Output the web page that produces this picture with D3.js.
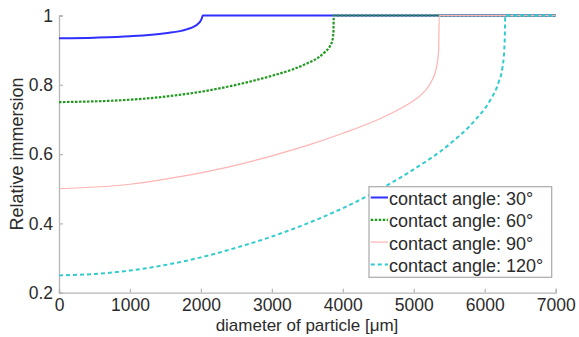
<!DOCTYPE html>
<html><head><meta charset="utf-8">
<script src="https://cdn.jsdelivr.net/npm/d3@7"></script>
<style>
html,body{margin:0;padding:0;background:#fff;}
svg{display:block;font-family:"Liberation Sans",Arial,sans-serif;}
</style></head>
<body><svg id="c" width="579" height="337"></svg>
<script>
// ---- data ----
const labels = ["contact angle: 30°","contact angle: 60°","contact angle: 90°","contact angle: 120°"];
const d30 = [0, 500, 1000, 1500, 1800, 1920, 1980, 2010, 2025, 7000];
const v30 = [0.934, 0.936, 0.940, 0.949, 0.960, 0.970, 0.980, 0.990, 1, 1];
const d60 = [0, 1000, 1500, 2000, 2500, 3000, 3300, 3500, 3650, 3750, 3820, 3855, 3868, 3872, 7000];
const v60 = [0.75, 0.757, 0.766, 0.780, 0.800, 0.826, 0.845, 0.862, 0.878, 0.895, 0.912, 0.93, 0.955, 1, 1];
const d90 = [0, 1000, 1500, 2000, 2500, 3000, 3500, 4000, 4500, 4800, 5000, 5150, 5250, 5320, 5350, 5360, 7000];
const v90 = [0.5, 0.513, 0.528, 0.546, 0.568, 0.595, 0.625, 0.66, 0.70, 0.73, 0.755, 0.78, 0.81, 0.85, 0.90, 1, 1];
const d120 = [0, 500, 1000, 1500, 2000, 2500, 3000, 3500, 4000, 4500, 5000, 5500, 5850, 6080, 6200, 6250, 6275, 6285, 6288, 7000];
const v120 = [0.25, 0.254, 0.264, 0.28, 0.302, 0.33, 0.362, 0.40, 0.444, 0.496, 0.556, 0.628, 0.695, 0.757, 0.81, 0.85, 0.90, 0.96, 1, 1];
const xTicks = [0, 1000, 2000, 3000, 4000, 5000, 6000, 7000];
const yTicks = [0.2, 0.4, 0.6, 0.8, 1];

const seriesD = [d30, d60, d90, d120];
const seriesV = [v30, v60, v90, v120];
const colors = ["#2f2fff", "#1f9a1f", "#ffb3b3", "#33cccc"];
const widths = [2, 2.2, 1.2, 2];
const dashes = [null, "2.5,1.5", null, "4,3"];

const svg = d3.select("#c");
const x = d3.scaleLinear().domain([0, 7000]).range([59, 555.7]);
const y = d3.scaleLinear().domain([0.2, 1]).range([292.7, 15.5]);
const axisColor = "#b5b5b5", textColor = "#2b2b2b";

// axes
const gx = svg.append("g").attr("transform", `translate(0,${y(0.2)})`)
  .call(d3.axisBottom(x).tickValues(xTicks).tickSize(-4).tickPadding(6).tickFormat(d3.format("d")));
const gy = svg.append("g").attr("transform", `translate(${x(0)},0)`)
  .call(d3.axisLeft(y).tickValues(yTicks).tickSize(-4).tickPadding(6).tickFormat(d => d === 1 ? "1" : d3.format(".1f")(d)));
[gx, gy].forEach(g => {
  g.select(".domain").attr("stroke", axisColor).attr("stroke-width", 1.3);
  g.selectAll(".tick line").attr("stroke", axisColor).attr("stroke-width", 1.2);
  g.selectAll(".tick text").attr("fill", textColor).style("font-size", "17.5px")
    .style("font-family", '"Liberation Sans",Arial,sans-serif');
});

// lines
const line = d3.line().x(p => x(p[0])).y(p => y(p[1])).curve(d3.curveMonotoneX);
seriesD.forEach((ds, i) => {
  const pts = ds.map((d, j) => [d, seriesV[i][j]]);
  svg.append("path").datum(pts).attr("d", line)
    .attr("fill", "none").attr("stroke", colors[i]).attr("stroke-width", widths[i])
    .attr("stroke-dasharray", dashes[i]);
});

// axis labels
svg.append("text").attr("x", 307).attr("y", 331).attr("text-anchor", "middle")
  .attr("fill", textColor).style("font-size", "17px").text("diameter of particle [μm]");
svg.append("text").attr("transform", "translate(23,154) rotate(-90)").attr("text-anchor", "middle")
  .attr("fill", textColor).style("font-size", "18px").text("Relative immersion");

// legend
const lg = svg.append("g");
lg.append("rect").attr("x", 369).attr("y", 186.7).attr("width", 182.7).attr("height", 90.6)
  .attr("fill", "#fff").attr("stroke", "#aaaaaa").attr("stroke-width", 1.2);
labels.forEach((t, i) => {
  const by = 205 + i * 22.3;
  lg.append("line").attr("x1", 370.7).attr("x2", 388).attr("y1", by - 7.5).attr("y2", by - 7.5)
    .attr("stroke", colors[i]).attr("stroke-width", widths[i]).attr("stroke-dasharray", dashes[i]);
  lg.append("text").attr("x", 389).attr("y", by).attr("fill", textColor)
    .style("font-size", "18px").text(t);
});
</script></body></html>
